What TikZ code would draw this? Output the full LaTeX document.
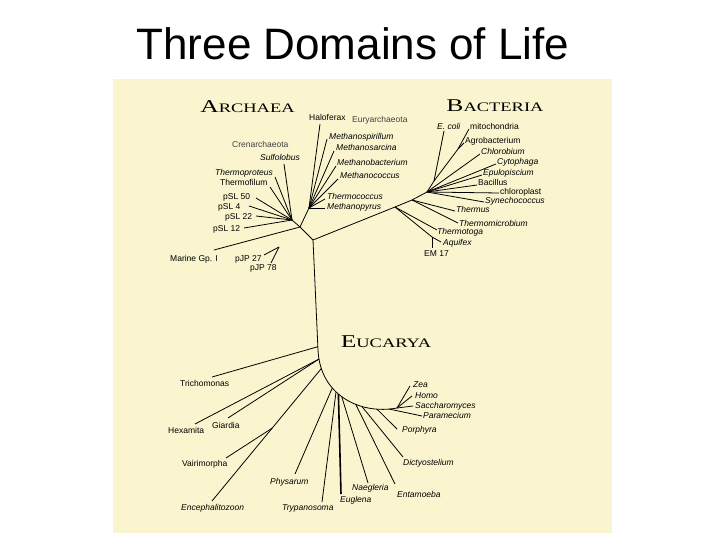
\documentclass[tikz,border=0pt]{standalone}
\usepackage{fontspec}
\usepackage{graphicx}
\setmainfont{Liberation Sans}
\newfontfamily\headserif{Liberation Serif}
\definecolor{beige}{RGB}{250,245,206}
\newcommand\dhead[2]{{\headserif\scalebox{1.42}[1]{\fontsize{18}{18}\selectfont #1\fontsize{13}{13}\selectfont #2}}}
\tikzset{
  lbl/.style={anchor=base west, inner sep=0pt, font=\fontsize{8.5}{9}\selectfont},
  itl/.style={lbl, font=\fontsize{8.5}{9}\selectfont\itshape},
  grp/.style={lbl, font=\fontsize{8.5}{9}\selectfont, text=black!75},
  br/.style={line width=0.8pt, black},
  dhd/.style={anchor=base, inner sep=0pt},
}
\begin{document}
\begin{tikzpicture}[x=1pt,y=-1pt]
\useasboundingbox (0,0) rectangle (720,540);
\fill[white] (0,0) rectangle (720,540);
\fill[beige] (113,79) rectangle (612,533);
\node[anchor=base, inner sep=0pt, font=\fontsize{44}{50}\selectfont] (title) at (353,60) {Three Domains of Life};

% domain headings
\node[dhd] (hA) at (247.5,113) {\dhead{A}{RCHAEA}};
\node[dhd] (hB) at (495,112) {\dhead{B}{ACTERIA}};
\node[dhd] (hE) at (386,347) {\dhead{E}{UCARYA}};

% ---------- junctions ----------
\coordinate (R) at (313,240);
\coordinate (A1) at (300,227);
\coordinate (C) at (292,220);
\coordinate (E) at (309,208);
\coordinate (J) at (279,247);
\coordinate (B1) at (395,207);
\coordinate (B2) at (412,200);
\coordinate (BH) at (427,192);
\coordinate (EC) at (434,181);
\coordinate (MA) at (458,149);
\coordinate (AE) at (432,237);
\coordinate (K0) at (318,350);
\coordinate (K3) at (397,408);

% ---------- Archaea labels ----------
\node[grp] (nCren) at (232,148) {Crenarchaeota};
\node[itl] (nSul) at (260,161) {Sulfolobus};
\node[itl] (nTpr) at (215,176) {Thermoproteus};
\node[lbl] (nTfi) at (220,186) {Thermofilum};
\node[lbl] (nP50) at (223,200) {pSL 50};
\node[lbl] (nP4) at (218,210) {pSL 4};
\node[lbl] (nP22) at (225,219) {pSL 22};
\node[lbl] (nP12) at (213,231) {pSL 12};
\node[lbl] (nMar) at (170,261) {Marine Gp. I};
\node[lbl] (nJ27) at (235,261) {pJP 27};
\node[lbl] (nJ78) at (250,270) {pJP 78};

\node[lbl] (nHal) at (309,121) {Haloferax};
\node[grp] (nEury) at (352,123) {Euryarchaeota};
\node[itl] (nMsp) at (329,140) {Methanospirillum};
\node[itl] (nMsa) at (336,151) {Methanosarcina};
\node[itl] (nMba) at (337,166) {Methanobacterium};
\node[itl] (nMco) at (340,179) {Methanococcus};
\node[itl] (nTco) at (327,200) {Thermococcus};
\node[itl] (nMpy) at (327,210) {Methanopyrus};

% archaea tips
\coordinate (tSul) at (284,164);
\coordinate (tTpr) at (275,177);
\coordinate (tTfi) at (270,187);
\coordinate (tP50) at (256,198);
\coordinate (tP4) at (249,206);
\coordinate (tP22) at (256,216);
\coordinate (tP12) at (244,228);
\coordinate (tMar) at (214,250);
\coordinate (tJ27) at (264,255);
\coordinate (tJ78) at (271,263);
\coordinate (tHal) at (320,124);
\coordinate (tMsp) at (327,139);
\coordinate (tMsa) at (334,151);
\coordinate (tMba) at (336,166);
\coordinate (tMco) at (338,179);
\coordinate (tTco) at (325,199);
\coordinate (tMpy) at (325,208);

\draw[br] (R) -- (A1) -- (C);
\draw[br] (A1) -- (E);
\foreach \t in {tSul,tTpr,tTfi,tP50,tP4,tP22,tP12} \draw[br] (C) -- (\t);
\draw[br] (A1) -- (tMar);
\draw[br] (J) -- (tJ27);
\draw[br] (J) -- (tJ78);
\foreach \t in {tHal,tMsp,tMsa,tMba,tMco,tTco,tMpy} \draw[br] (E) -- (\t);

% ---------- Bacteria labels ----------
\node[itl] (nEco) at (437,130) {E. coli};
\node[lbl] (nMit) at (470,130) {mitochondria};
\node[lbl] (nAgr) at (465,144) {Agrobacterium};
\node[itl] (nChl) at (481,155) {Chlorobium};
\node[itl] (nCyt) at (497,165) {Cytophaga};
\node[itl] (nEpu) at (483,176) {Epulopiscium};
\node[lbl] (nBac) at (478,186) {Bacillus};
\node[lbl] (nClp) at (500,195) {chloroplast};
\node[itl] (nSyn) at (485,204) {Synechococcus};
\node[itl] (nThu) at (456,213) {Thermus};
\node[itl] (nTmi) at (459,226) {Thermomicrobium};
\node[itl] (nTto) at (437,235) {Thermotoga};
\node[itl] (nAqu) at (443,245) {Aquifex};
\node[lbl] (nEM) at (424,256) {EM 17};

\coordinate (tEco) at (444,131);
\coordinate (tMit) at (469,129);
\coordinate (tAgr) at (464,143);
\coordinate (tChl) at (480,154);
\coordinate (tCyt) at (496,164);
\coordinate (tEpu) at (482,175);
\coordinate (tBac) at (477,185);
\coordinate (tClp) at (499,193);
\coordinate (tSyn) at (484,202);
\coordinate (tThu) at (455,211);
\coordinate (tTmi) at (458,223);
\coordinate (tTto) at (437,230);
\coordinate (tAqu) at (441,242);
\coordinate (tEM) at (432,248);

\draw[br] (R) -- (B1) -- (B2) -- (BH);
\draw[br] (BH) -- (EC) -- (tEco);
\draw[br] (EC) -- (MA) -- (tMit);
\draw[br] (MA) -- (tAgr);
\foreach \t in {tChl,tCyt,tEpu,tBac,tClp,tSyn} \draw[br] (BH) -- (\t);
\draw[br] (B2) -- (tThu);
\draw[br] (B2) -- (tTmi);
\draw[br] (B1) -- (tTto);
\draw[br] (B1) -- (AE) -- (tAqu);
\draw[br] (AE) -- (tEM);

% ---------- Eucarya ----------
\draw[br] (R) -- (K0) coordinate[pos=0.97] (eTri);
\draw[br] (K0) .. controls (320,395) and (360,415) .. (K3)
  coordinate[pos=0.07] (eHex)
  coordinate[pos=0.15] (eEnc)
  coordinate[pos=0.35] (ePhy)
  coordinate[pos=0.40] (eTry)
  coordinate[pos=0.43] (eEug)
  coordinate[pos=0.47] (eNae)
  coordinate[pos=0.62] (eEnt)
  coordinate[pos=0.68] (eDic)
  coordinate[pos=0.82] (ePor)
  coordinate[pos=0.93] (ePar);

\node[lbl] (nTri) at (180,386) {Trichomonas};
\node[lbl] (nHex) at (168,433) {Hexamita};
\node[lbl] (nGia) at (212,428) {Giardia};
\node[lbl] (nVai) at (182,466) {Vairimorpha};
\node[itl] (nEnc) at (181,510) {Encephalitozoon};
\node[itl] (nPhy) at (270,484) {Physarum};
\node[itl] (nTry) at (282,510) {Trypanosoma};
\node[itl] (nEug) at (340,502) {Euglena};
\node[itl] (nNae) at (352,490) {Naegleria};
\node[itl] (nEnt) at (397,497) {Entamoeba};
\node[itl] (nDic) at (403,465) {Dictyostelium};
\node[itl] (nPor) at (402,432) {Porphyra};
\node[itl] (nPar) at (423,418) {Paramecium};
\node[itl] (nSac) at (415,408) {Saccharomyces};
\node[itl] (nHom) at (415,398) {Homo};
\node[itl] (nZea) at (413,387) {Zea};

\coordinate (tTri) at (212,377);
\coordinate (tHex) at (195,424);
\coordinate (tGia) at (228,418);
\coordinate (tEnc) at (212,501);
\coordinate (tVai) at (226,458);
\coordinate (tPhy) at (295,474);
\coordinate (tTry) at (322,502);
\coordinate (tEug) at (341,494);
\coordinate (tNae) at (368,483);
\coordinate (tEnt) at (395,484);
\coordinate (tDic) at (403,457);
\coordinate (tPor) at (397,429);
\coordinate (tPar) at (422,416);
\coordinate (tSac) at (413,406);
\coordinate (tHom) at (412,396);
\coordinate (tZea) at (410,386);

\draw[br] (eTri) -- (tTri);
\draw[br] (eHex) -- (tHex);
\draw[br] (eHex) -- (tGia);
\draw[br] (eEnc) -- (tEnc) coordinate[pos=0.45] (eVai);
\draw[br] (eVai) -- (tVai);
\draw[br] (ePhy) -- (tPhy);
\draw[br] (eTry) -- (tTry);
\draw[line width=1.6pt] (eEug) -- (tEug);
\draw[br] (eNae) -- (tNae);
\draw[br] (eEnt) -- (tEnt);
\draw[br] (eDic) -- (tDic);
\draw[br] (ePor) -- (tPor);
\draw[br] (ePar) -- (tPar);
\draw[br] (K3) -- (tSac);
\draw[br] (K3) -- (tHom);
\draw[br] (K3) -- (tZea);
\end{tikzpicture}
\end{document}
